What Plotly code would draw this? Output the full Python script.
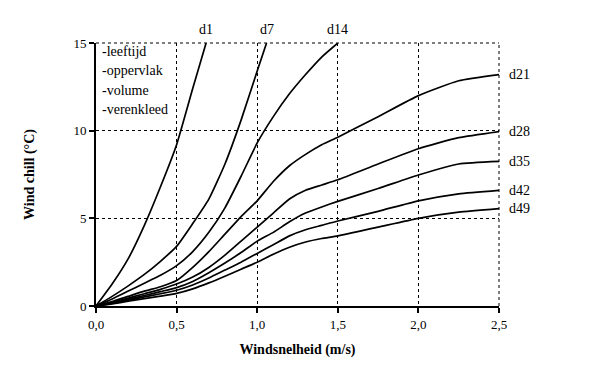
import plotly.graph_objects as go

# Wind speed (m/s) samples
x_d1 = [0, 0.1, 0.2, 0.3, 0.4, 0.5, 0.6, 0.683]
y_d1 = [0, 1.25, 2.7, 4.6, 6.8, 9.2, 12.4, 15]

x_d7 = [0, 0.1, 0.2, 0.3, 0.4, 0.5, 0.6, 0.7, 0.8, 0.9, 1.0, 1.058]
y_d7 = [0, 0.55, 1.15, 1.8, 2.55, 3.4, 4.7, 6.1, 8.1, 10.6, 13.4, 15]

x_d14 = [0, 0.1, 0.2, 0.3, 0.4, 0.5, 0.6, 0.7, 0.8, 0.9, 1.0, 1.1, 1.2, 1.3, 1.4, 1.5]
y_d14 = [0, 0.4, 0.85, 1.3, 1.75, 2.3, 3.1, 4.2, 5.6, 7.4, 9.3, 10.8, 12.1, 13.2, 14.2, 15]

x_full = [0, 0.1, 0.2, 0.3, 0.4, 0.5, 0.6, 0.7, 0.8, 0.9, 1.0,
          1.1, 1.2, 1.3, 1.4, 1.5, 1.75, 2.0, 2.25, 2.5]
y_d21 = [0, 0.25, 0.55, 0.85, 1.1, 1.45, 2.2, 3.1, 4.1, 5.1, 6.0,
         7.1, 8.0, 8.65, 9.2, 9.63, 10.8, 12.0, 12.85, 13.2]
y_d28 = [0, 0.2, 0.45, 0.7, 0.95, 1.25, 1.65, 2.2, 2.9, 3.7, 4.5,
         5.3, 6.1, 6.6, 6.9, 7.2, 8.1, 8.97, 9.6, 9.95]
y_d35 = [0, 0.17, 0.38, 0.6, 0.82, 1.05, 1.4, 1.9, 2.45, 3.05, 3.7,
         4.2, 4.8, 5.3, 5.65, 5.97, 6.7, 7.47, 8.1, 8.25]
y_d42 = [0, 0.15, 0.33, 0.52, 0.7, 0.9, 1.2, 1.6, 2.05, 2.5, 3.0,
         3.5, 4.0, 4.35, 4.6, 4.85, 5.4, 6.0, 6.4, 6.6]
y_d49 = [0, 0.12, 0.27, 0.42, 0.56, 0.72, 0.98, 1.32, 1.7, 2.1, 2.5,
         2.95, 3.35, 3.65, 3.85, 4.0, 4.5, 5.0, 5.35, 5.55]

top_series = [("d1", x_d1, y_d1), ("d7", x_d7, y_d7), ("d14", x_d14, y_d14)]
right_series = [("d21", y_d21), ("d28", y_d28), ("d35", y_d35), ("d42", y_d42), ("d49", y_d49)]

legend_lines = ["-leeftijd", "-oppervlak", "-volume", "-verenkleed"]

x_ticks = [0, 0.5, 1.0, 1.5, 2.0, 2.5]
y_ticks = [0, 5, 10, 15]

FONT = "Liberation Serif"

fig = go.Figure()
line_style = dict(color="black", width=1.7, shape="spline", smoothing=0.5)

annotations = []
for name, xs, ys in top_series:
    fig.add_trace(go.Scatter(x=xs, y=ys, mode="lines", line=line_style, name=name,
                             showlegend=False, cliponaxis=False))
    annotations.append(dict(x=xs[-1], y=ys[-1], text=name, showarrow=False,
                            xanchor="center", yanchor="bottom", yshift=4,
                            font=dict(family=FONT, size=14, color="black")))
for name, ys in right_series:
    fig.add_trace(go.Scatter(x=x_full, y=ys, mode="lines", line=line_style, name=name,
                             showlegend=False, cliponaxis=False))
    annotations.append(dict(x=x_full[-1], y=ys[-1], text=name, showarrow=False,
                            xanchor="left", yanchor="middle", xshift=8,
                            font=dict(family=FONT, size=14, color="black")))

for i, txt in enumerate(legend_lines):
    annotations.append(dict(x=0, y=1, xref="paper", yref="paper",
                            text=txt, showarrow=False,
                            xanchor="left", yanchor="middle", align="left",
                            xshift=4, yshift=-(8 + 19.5 * i),
                            font=dict(family=FONT, size=14, color="black")))

# dashed frame on top (y=15) and right (x=2.5)
shapes = [
    dict(type="line", xref="paper", yref="paper", x0=0, x1=1, y0=1, y1=1,
         line=dict(color="black", width=1, dash="3px,3px")),
    dict(type="line", xref="paper", yref="paper", x0=1, x1=1, y0=0, y1=1,
         line=dict(color="black", width=1, dash="3px,3px")),
]

# body margin of the html page (~8px) is compensated in the margins
fig.update_layout(
    width=599, height=372,
    margin=dict(l=88, r=108, t=35, b=74),
    paper_bgcolor="white", plot_bgcolor="white",
    separators=", ",
    font=dict(family=FONT, size=12, color="black"),
    annotations=annotations,
    shapes=shapes,
    showlegend=False,
)
fig.update_xaxes(
    range=[0, 2.5], tickvals=x_ticks, tickformat=".1f",
    showline=True, linecolor="black", linewidth=2,
    ticks="outside", ticklen=5, tickwidth=2, tickcolor="black",
    showgrid=True, gridcolor="black", gridwidth=1, griddash="3px,3px",
    zeroline=False,
    title=dict(text="<b>Windsnelheid (m/s)</b>", font=dict(family=FONT, size=14), standoff=14),
    tickfont=dict(family=FONT, size=13),
)
fig.update_yaxes(
    range=[0, 15], tickvals=y_ticks,
    showline=True, linecolor="black", linewidth=2,
    ticks="outside", ticklen=5, tickwidth=2, tickcolor="black",
    showgrid=True, gridcolor="black", gridwidth=1, griddash="3px,3px",
    zeroline=False,
    title=dict(text="<b>Wind chill (°C)</b>", font=dict(family=FONT, size=14), standoff=36),
    tickfont=dict(family=FONT, size=13),
)

fig.write_html("out.html")
